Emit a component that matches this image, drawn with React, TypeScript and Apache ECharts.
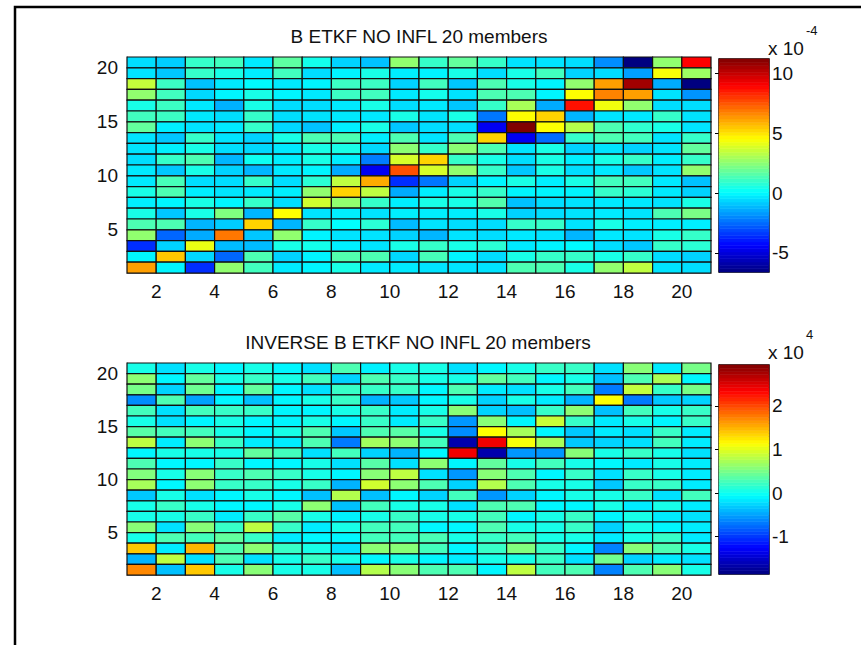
import React, { useEffect, useRef } from 'react';
import * as echarts from 'echarts';

// Axis tick labels
const xTicks = [2, 4, 6, 8, 10, 12, 14, 16, 18, 20];
const yTicks = [5, 10, 15, 20];
const topBarTicks = [-5, 0, 5, 10]; // x 10^-4
const botBarTicks = [-1, 0, 1, 2]; // x 10^4
const topRange = [-6.6, 11.2];
const botRange = [-1.86, 2.94];

const topTitle = 'B ETKF NO INFL 20 members';
const botTitle = 'INVERSE B ETKF NO INFL 20 members';

// B ETKF (units of 1e-4), rows listed from member 20 (top) down to 1
const bRows: number[][] = [
  [-0.5, -0.8, 1.0, 1.2, -0.3, 1.7, 0.4, -0.7, -1.0, 2.6, 1.0, 1.8, 1.0, -0.4, -0.4, -0.5, -1.9, -6.6, 2.6, 9.0],
  [-0.4, -0.9, 1.0, 0.5, -0.2, 1.2, -0.5, -0.1, 0.5, -0.2, -0.1, 0.5, -0.5, 0.5, 1.2, -0.7, -0.5, -1.6, 4.4, 2.8],
  [3.5, 1.1, -1.0, -0.3, 0.0, -0.3, -0.1, 1.1, 1.1, -0.7, 1.2, -0.9, 1.4, 0.5, -0.1, 2.6, 6.2, 10.6, -1.4, -6.6],
  [2.6, 1.2, -0.6, -0.1, 0.5, -0.1, -0.3, 1.1, 1.2, -0.3, 0.4, -0.4, 1.4, 1.4, -0.1, 4.5, 6.7, 6.2, -0.4, -1.8],
  [0.5, 1.1, -0.3, -1.3, 0.5, -0.5, -0.5, -0.3, 0.5, -0.5, -0.3, -0.9, 1.0, 3.0, -1.4, 8.7, 4.3, 2.6, -0.5, -0.5],
  [1.2, 1.1, -0.3, -0.5, 1.0, -0.5, -0.4, -0.3, -0.3, 0.5, -0.4, 0.5, -2.3, 4.5, 5.3, -1.2, -0.4, -0.3, 1.0, -0.4],
  [1.8, -0.2, -0.4, -0.3, 1.0, -0.6, -1.0, -0.2, 0.5, -0.9, -0.5, -0.5, -4.6, 11.2, 4.5, 3.2, 1.4, 0.9, 0.5, -0.4],
  [-0.4, -0.9, 1.0, -0.4, -0.7, 0.5, 1.4, 1.4, -0.2, 1.4, -0.4, 1.4, 5.3, -4.6, -2.5, 1.0, 1.4, 1.2, -0.4, 1.0],
  [-0.4, -0.2, 0.5, -0.5, -0.6, -0.3, 0.5, 0.5, -0.6, 2.5, 1.0, 2.5, 1.4, -0.4, 0.5, -0.7, -0.4, -0.7, -0.4, 1.8],
  [-0.5, 1.0, 1.4, -1.2, 0.3, -0.2, 0.5, -0.2, -2.2, 3.8, 5.3, 1.0, 0.5, -0.5, 0.5, -0.2, 0.5, 1.0, -0.2, 1.0],
  [-0.3, -0.9, 0.5, -0.7, -1.2, -0.3, -0.1, -1.4, -4.6, 7.6, 3.8, 2.6, 1.0, -0.9, 0.5, -0.5, -0.3, -0.9, -0.4, 2.6],
  [-0.3, 1.3, -0.5, -0.5, 1.0, -0.5, 0.8, 3.4, 6.0, -3.6, -2.3, -0.7, -0.1, 0.5, -0.2, 0.5, 1.2, 1.2, -0.3, -1.0],
  [0.5, 1.4, -0.2, -0.4, -0.3, -0.2, 2.6, 5.3, 3.4, -1.4, -0.2, 0.5, 1.0, -0.1, -0.1, -0.1, 1.0, 0.8, -0.3, -0.7],
  [-0.2, -0.1, 0.5, -0.1, 1.0, -0.5, 3.7, 2.6, 1.0, -0.2, 0.5, 0.5, 1.5, -1.0, -0.5, -0.4, -0.3, -0.3, -0.4, 0.5],
  [0.5, -0.9, 0.5, 2.3, -1.2, 4.5, -0.4, -0.2, -0.4, -0.2, -0.2, -0.2, 0.5, -0.7, -0.5, -0.4, -0.3, -0.4, 1.4, 2.2],
  [1.4, 1.4, -1.2, -0.8, 5.3, -1.2, 1.0, 0.1, 0.8, -1.1, -0.4, -0.5, -0.5, 1.0, 1.0, -0.4, 0.5, -0.2, -0.2, -0.2],
  [2.6, -2.6, -1.4, 6.9, -0.9, 2.6, -0.1, -0.4, -0.4, -0.7, -1.2, -0.4, -0.5, -0.3, -0.4, -1.2, -0.3, -0.4, 0.5, 1.0],
  [-3.6, -0.7, 4.2, -1.1, -1.1, 0.5, 0.4, -0.2, -0.4, 0.5, 1.0, 0.5, 0.8, -0.3, -0.1, 0.0, -0.5, -0.9, 1.0, 0.8],
  [-0.1, 5.5, -0.6, -2.6, 1.4, -0.7, -0.1, 1.5, 1.4, -0.6, 1.3, -0.1, -0.5, 0.5, 1.0, 1.0, 0.5, 1.0, -0.5, -0.7],
  [6.2, -0.1, -3.6, 2.6, 1.2, -0.3, -0.1, 0.5, -0.3, -0.3, -0.4, -0.4, -0.4, 1.4, 1.4, 0.5, 2.6, 3.4, -0.4, -0.5],
];

// INVERSE B ETKF (units of 1e4), rows listed from member 20 (top) down to 1
const invRows: number[][] = [
  [0.05, -0.2, 0.05, -0.1, 0.05, -0.1, -0.2, 0.3, -0.12, 0.05, 0.05, -0.2, -0.1, 0.05, 0.2, 0.2, -0.2, 0.58, -0.15, 0.5],
  [0.6, -0.1, 0.4, 0.05, 0.2, 0.05, 0.25, -0.27, 0.3, 0.2, 0.05, 0.05, 0.4, 0.25, -0.1, 0.05, -0.36, 0.3, 0.75, -0.1],
  [0.5, -0.27, 0.45, -0.1, 0.4, -0.1, -0.2, 0.2, 0.2, 0.2, -0.1, 0.3, -0.15, -0.2, 0.05, 0.25, -0.69, 0.85, 0.2, 0.5],
  [-0.6, 0.3, -0.5, -0.1, -0.36, -0.1, 0.05, 0.2, -0.42, -0.32, -0.1, 0.05, -0.27, 0.05, -0.15, -0.42, 1.14, -0.69, -0.32, -0.27],
  [0.25, -0.2, 0.25, 0.2, 0.2, -0.1, -0.1, 0.05, 0.2, -0.15, 0.05, 0.58, -0.27, -0.36, 0.2, 0.6, -0.36, 0.25, 0.05, 0.2],
  [0.05, -0.2, -0.1, 0.05, -0.1, -0.1, 0.05, -0.1, 0.2, -0.15, 0.2, -0.55, 0.58, -0.1, 0.88, 0.2, -0.15, 0.05, -0.1, 0.2],
  [0.35, 0.25, 0.25, 0.05, -0.1, 0.05, 0.3, -0.32, 0.3, 0.35, 0.05, -0.6, 1.14, 0.72, -0.1, -0.32, -0.15, -0.2, 0.2, -0.15],
  [0.83, -0.15, 0.6, 0.2, -0.15, -0.15, 0.3, -0.69, 0.7, 0.6, 0.25, -1.65, 2.4, 1.1, 0.72, -0.32, -0.27, -0.2, 0.25, -0.15],
  [-0.1, 0.05, 0.05, 0.05, 0.4, 0.25, -0.2, 0.25, -0.27, -0.42, -0.1, 2.4, -1.65, -0.55, -0.55, 0.58, 0.05, 0.2, 0.05, -0.2],
  [0.3, -0.1, -0.1, 0.2, -0.1, -0.1, 0.05, -0.2, 0.35, -0.2, 0.6, -0.1, 0.4, 0.05, 0.25, 0.05, -0.1, -0.15, 0.05, -0.15],
  [0.55, 0.05, 0.58, 0.2, 0.3, 0.2, 0.05, -0.1, 0.58, 0.83, -0.2, -0.55, 0.58, 0.3, -0.1, 0.2, -0.2, 0.2, 0.05, -0.15],
  [0.72, -0.1, 0.6, 0.2, 0.2, 0.05, 0.2, -0.42, 0.92, 0.6, 0.3, -0.27, 0.78, 0.3, 0.05, 0.05, -0.32, 0.2, 0.2, -0.15],
  [-0.32, 0.05, -0.2, -0.1, 0.05, -0.1, -0.36, 0.78, -0.36, -0.1, -0.27, 0.25, -0.55, -0.27, -0.1, 0.05, 0.05, 0.2, -0.2, 0.25],
  [0.05, 0.2, 0.05, -0.1, -0.1, 0.05, 0.6, -0.36, 0.25, 0.05, 0.05, -0.2, 0.3, 0.3, -0.1, -0.1, 0.05, -0.15, 0.05, -0.15],
  [0.05, 0.05, 0.2, -0.15, 0.2, 0.35, 0.05, -0.12, 0.05, 0.2, 0.05, 0.05, 0.25, -0.1, 0.05, 0.2, -0.1, 0.05, -0.15, -0.2],
  [0.58, -0.2, 0.58, 0.2, 0.83, 0.2, -0.15, 0.05, 0.25, 0.25, -0.1, -0.1, 0.3, 0.05, 0.05, 0.2, -0.27, 0.05, -0.1, -0.15],
  [0.05, 0.3, 0.25, 0.4, 0.2, -0.15, -0.1, -0.1, 0.25, 0.25, 0.28, 0.05, 0.2, 0.25, 0.05, 0.05, -0.15, 0.05, 0.2, -0.15],
  [1.4, -0.15, 1.48, 0.3, 0.6, 0.2, 0.05, -0.2, 0.6, 0.58, 0.25, -0.1, 0.2, 0.55, 0.2, -0.1, -0.65, 0.58, 0.3, 0.05],
  [-0.42, 0.83, -0.2, 0.3, -0.2, 0.05, 0.2, 0.05, -0.1, 0.05, -0.1, -0.15, 0.05, 0.05, 0.2, -0.2, 0.47, -0.27, -0.15, -0.2],
  [1.7, -0.36, 1.4, 0.05, 0.58, 0.05, 0.05, -0.36, 0.78, 0.58, 0.3, 0.3, -0.1, 0.83, 0.25, 0.3, -0.65, 0.3, 0.58, 0.05],
];

const jet = ['#000080', '#0000ff', '#0080ff', '#00ffff', '#80ff80', '#ffff00', '#ff8000', '#ff0000', '#800000'];

function toCells(rows: number[][]) {
  const out: number[][] = [];
  rows.forEach((row, i) => {
    const y = rows.length - i;
    row.forEach((v, j) => out.push([j + 1, y, v]));
  });
  return out;
}

function barBins(range: number[]) {
  const n = 64;
  const step = (range[1] - range[0]) / n;
  const out: number[][] = [];
  for (let k = 0; k < n; k++) {
    const lo = range[0] + k * step;
    out.push([lo, lo + step, lo + step / 2]);
  }
  return out;
}

const FONT = "'Liberation Sans', Arial, sans-serif";
const TXT = '#111';

const cellRender = (params: any, api: any) => {
  const x = api.value(0);
  const y = api.value(1);
  const p0 = api.coord([x, y + 1]);
  const p1 = api.coord([x + 1, y]);
  return {
    type: 'rect',
    shape: { x: p0[0], y: p0[1], width: p1[0] - p0[0], height: p1[1] - p0[1] },
    style: { fill: api.visual('color'), stroke: '#111', lineWidth: 1.2 },
  };
};

const barRender = (params: any, api: any) => {
  const lo = api.value(0);
  const hi = api.value(1);
  const p0 = api.coord([0, hi]);
  const p1 = api.coord([1, lo]);
  const c = api.visual('color');
  return {
    type: 'rect',
    shape: { x: p0[0], y: p0[1], width: p1[0] - p0[0], height: p1[1] - p0[1] },
    style: { fill: c, stroke: c, lineWidth: 0.6 },
  };
};

function heatX(gridIndex: number) {
  return {
    type: 'value', gridIndex, min: 1, max: 21,
    axisLabel: { customValues: xTicks, fontSize: 19, fontFamily: FONT, color: TXT, margin: 9 },
    axisTick: { customValues: xTicks, inside: true, length: 5, lineStyle: { color: '#000' } },
    axisLine: { show: true, lineStyle: { color: '#666' } },
    splitLine: { show: false },
  };
}
function heatY(gridIndex: number) {
  return {
    type: 'value', gridIndex, min: 1, max: 21,
    axisLabel: { customValues: yTicks, fontSize: 19, fontFamily: FONT, color: TXT, margin: 9, padding: [7, 0, 0, 0] },
    axisTick: { customValues: yTicks, inside: true, length: 5, lineStyle: { color: '#000' } },
    axisLine: { show: true, lineStyle: { color: '#666' } },
    splitLine: { show: false },
  };
}
function barX(gridIndex: number) {
  return { type: 'value', gridIndex, min: 0, max: 1, show: false };
}
function barY(gridIndex: number, range: number[], ticks: number[]) {
  return {
    type: 'value', gridIndex, min: range[0], max: range[1], position: 'right',
    axisLabel: { customValues: ticks, fontSize: 19, fontFamily: FONT, color: TXT, margin: 3, padding: [7, 0, 0, 0] },
    axisTick: { customValues: ticks, inside: true, length: 4, lineStyle: { color: '#000' } },
    axisLine: { show: true, lineStyle: { color: '#000' } },
    splitLine: { show: false },
  };
}

export default function App() {
  const ref = useRef<HTMLDivElement>(null);
  useEffect(() => {
    if (!ref.current) return;
    const chart = echarts.init(ref.current, undefined, { renderer: 'svg' });
    chart.setOption({
      animation: false,
      backgroundColor: '#ffffff',
      grid: [
        { left: 127, top: 57, width: 584, height: 216 },
        { left: 719, top: 59, width: 50, height: 213, show: true, borderColor: '#000', borderWidth: 1.5, backgroundColor: 'transparent' },
        { left: 127, top: 363, width: 584, height: 212 },
        { left: 719, top: 365, width: 50, height: 209, show: true, borderColor: '#000', borderWidth: 1.5, backgroundColor: 'transparent' },
      ],
      xAxis: [heatX(0), barX(1), heatX(2), barX(3)],
      yAxis: [heatY(0), barY(1, topRange, topBarTicks), heatY(2), barY(3, botRange, botBarTicks)],
      visualMap: [
        { type: 'continuous', show: false, min: topRange[0], max: topRange[1], dimension: 2, seriesIndex: [0, 1], inRange: { color: jet } },
        { type: 'continuous', show: false, min: botRange[0], max: botRange[1], dimension: 2, seriesIndex: [2, 3], inRange: { color: jet } },
      ],
      series: [
        { type: 'custom', name: topTitle, xAxisIndex: 0, yAxisIndex: 0, renderItem: cellRender, data: toCells(bRows), encode: { x: 0, y: 1 }, silent: true },
        { type: 'custom', name: 'cbar1', xAxisIndex: 1, yAxisIndex: 1, renderItem: barRender, data: barBins(topRange), encode: { y: [0, 1] }, silent: true, z: 1 },
        { type: 'custom', name: botTitle, xAxisIndex: 2, yAxisIndex: 2, renderItem: cellRender, data: toCells(invRows), encode: { x: 0, y: 1 }, silent: true },
        { type: 'custom', name: 'cbar2', xAxisIndex: 3, yAxisIndex: 3, renderItem: barRender, data: barBins(botRange), encode: { y: [0, 1] }, silent: true, z: 1 },
      ],
      graphic: [
        { type: 'rect', shape: { x: 15, y: 7, width: 900, height: 700 }, style: { fill: 'none', stroke: '#000', lineWidth: 2.5 }, silent: true },
        { type: 'text', x: 419, y: 36, style: { text: topTitle, fontSize: 19, fontFamily: FONT, fill: TXT, textAlign: 'center', textVerticalAlign: 'middle' } },
        { type: 'text', x: 418, y: 342, style: { text: botTitle, fontSize: 19, fontFamily: FONT, fill: TXT, textAlign: 'center', textVerticalAlign: 'middle' } },
        { type: 'text', x: 768, y: 48, style: { text: 'x 10', fontSize: 19, fontFamily: FONT, fill: TXT, textAlign: 'left', textVerticalAlign: 'middle' } },
        { type: 'text', x: 806, y: 30, style: { text: '-4', fontSize: 13, fontFamily: FONT, fill: TXT, textAlign: 'left', textVerticalAlign: 'middle' } },
        { type: 'text', x: 768, y: 352, style: { text: 'x 10', fontSize: 19, fontFamily: FONT, fill: TXT, textAlign: 'left', textVerticalAlign: 'middle' } },
        { type: 'text', x: 806, y: 334, style: { text: '4', fontSize: 13, fontFamily: FONT, fill: TXT, textAlign: 'left', textVerticalAlign: 'middle' } },
      ],
    });
    return () => chart.dispose();
  }, []);
  return <div ref={ref} style={{ position: 'fixed', left: 0, top: 0, width: 861, height: 645, background: '#fff' }} />;
}
